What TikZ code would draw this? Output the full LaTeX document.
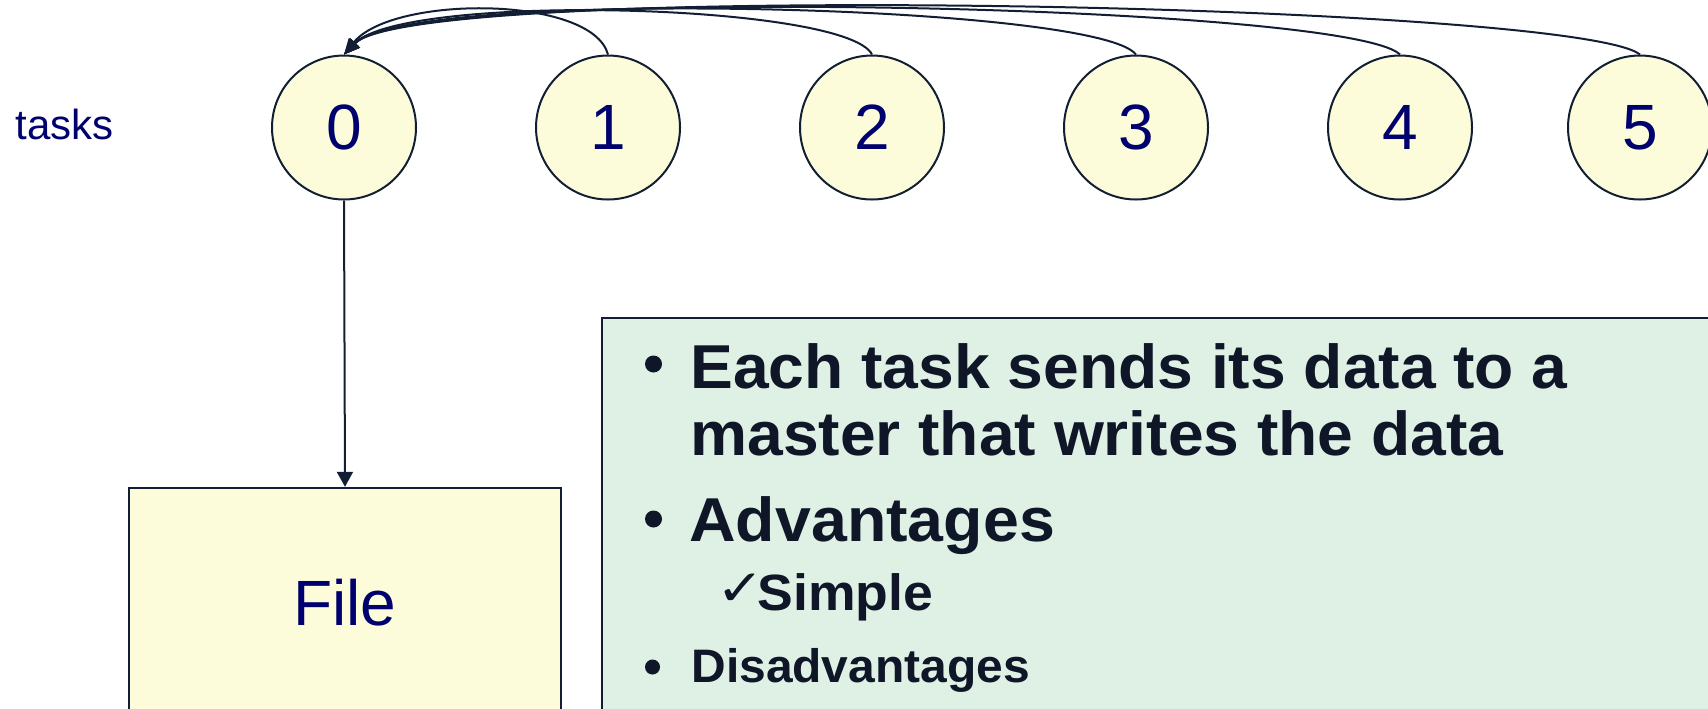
\documentclass[tikz,border=0pt]{standalone}
\usepackage{fontspec}
\setmainfont{Liberation Sans}
\newfontfamily\symbolfont{DejaVu Sans}
\usetikzlibrary{arrows.meta}

\definecolor{inkline}{RGB}{18,30,52}
\definecolor{navytext}{RGB}{0,0,110}
\definecolor{bodytext}{RGB}{14,22,40}
\definecolor{taskfill}{RGB}{252,252,218}
\definecolor{notefill}{RGB}{223,240,229}

\tikzset{
  task/.style={circle, draw=inkline, line width=1pt, fill=taskfill,
    minimum size=72pt, inner sep=0pt, text=navytext,
    font=\fontsize{32}{38}\selectfont},
  filebox/.style={rectangle, draw=inkline, line width=1.2pt, fill=taskfill,
    minimum width=216pt, minimum height=115pt, inner sep=0pt,
    text=navytext, font=\fontsize{32}{38}\selectfont},
  notebox/.style={rectangle, draw=inkline, line width=0.8pt, fill=notefill,
    minimum width=560pt, minimum height=205pt, inner sep=0pt},
  gather/.style={draw=inkline, line width=1pt,
    -{Triangle[length=8pt,width=6.5pt]}},
  down/.style={draw=inkline, line width=1pt,
    -{Triangle[length=7.5pt,width=8pt]}},
  line/.style={anchor=base west, inner sep=0pt, text=bodytext},
  dot/.style={fill=bodytext}
}
\newcommand{\digit}[1]{\raisebox{-1.5pt}{#1}}

\begin{document}
\begin{tikzpicture}[x=0.5pt, y=-0.5pt]
  \useasboundingbox (0,0) rectangle (1708,708);
  \clip (0,0) rectangle (1708,708);

  % label
  \node[anchor=base west, inner sep=0pt, text=navytext,
        font=\fontsize{21}{25}\selectfont] (label) at (15,139) {tasks};

  % task circles
  \node[task] (c0) at (344,127.5)  {\digit{0}};
  \node[task] (c1) at (608,127.5)  {\digit{1}};
  \node[task] (c2) at (872,127.5)  {\digit{2}};
  \node[task] (c3) at (1136,127.5) {\digit{3}};
  \node[task] (c4) at (1400,127.5) {\digit{4}};
  \node[task] (c5) at (1640,127.5) {\digit{5}};

  % every task sends its data to task 0
  \draw[gather] (c1.north) .. controls +(-16,-59.5) and +(48,-59.5) .. (c0.north);
  \draw[gather] (c2.north) .. controls +(-26,-51.5) and +(60,-62) .. (c0.north);
  \draw[gather] (c3.north) .. controls +(-40,-51.5) and +(64,-66) .. (c0.north);
  \draw[gather] (c4.north) .. controls +(-53,-51.5) and +(68,-70) .. (c0.north);
  \draw[gather] (c5.north) .. controls +(-65,-51.5) and +(72,-74) .. (c0.north);

  % the file written by task 0
  \node[filebox] (file) at (345,603) {File};
  \draw[down] (c0.south) -- (file.north);

  % notes
  \node[notebox, anchor=north west] (note) at (601,317) {};

  \fill[dot] (653.5,364) circle (8.5);
  \node[line, font=\bfseries\fontsize{31}{37}\selectfont] (l1) at (690,388)
    {\scalebox{1.035}[1]{Each task sends its data to a}};
  \node[line, font=\bfseries\fontsize{31}{37}\selectfont] (l2) at (690,455)
    {\scalebox{1.035}[1]{master that writes the data}};

  \fill[dot] (653.5,519) circle (8.5);
  \node[line, font=\bfseries\fontsize{31}{37}\selectfont] (l3) at (689,541)
    {\scalebox{1.04}[1]{Advantages}};

  \node[line, font=\symbolfont\fontsize{25}{30}\selectfont] (tick) at (716,605)
    {\scalebox{1.15}[1]{✓}};
  \node[line, font=\bfseries\fontsize{25.5}{30}\selectfont] (l4) at (757,610)
    {\scalebox{1.05}[1]{Simple}};

  \fill[dot] (652.5,667) circle (7.5);
  \node[line, font=\bfseries\fontsize{23.5}{28}\selectfont] (l5) at (691,682)
    {\scalebox{1.02}[1]{Disadvantages}};
\end{tikzpicture}
\end{document}
